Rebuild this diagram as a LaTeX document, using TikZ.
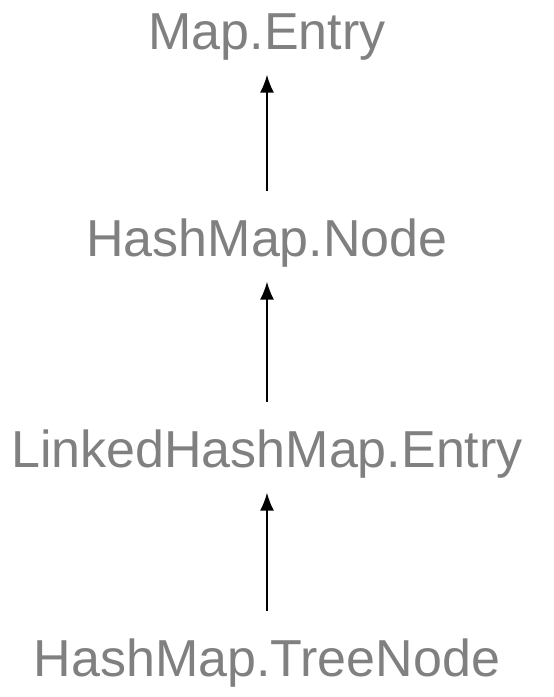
\documentclass[tikz,border=0pt]{standalone}
\usepackage{fontspec}
\setmainfont{Liberation Sans}
\usetikzlibrary{arrows.meta}
\usetikzlibrary{positioning}
\definecolor{txtgray}{HTML}{808080}

\begin{document}
\begin{tikzpicture}[x=1pt,y=1pt,
  cls/.style={text=txtgray,font=\fontsize{52}{60}\selectfont,inner sep=0pt,
    anchor=base,text height=39pt,text depth=11.5pt},
  ext/.style={-{Latex[length=18pt,width=14pt]},line width=1.6pt,
    shorten <=26pt,shorten >=14pt}]
\useasboundingbox (0,0) rectangle (554,-697);
\node[cls] (a) at (267,-49) {Map.Entry};
\node[cls] (b) at (267,-256) {HashMap.Node};
\node[cls] (c) at (267,-467) {LinkedHashMap.Entry};
\node[cls] (d) at (267,-676) {HashMap.TreeNode};
\draw[ext] (b.north) -- (a.south);
\draw[ext] (c.north) -- (b.south);
\draw[ext] (d.north) -- (c.south);
\end{tikzpicture}
\end{document}
